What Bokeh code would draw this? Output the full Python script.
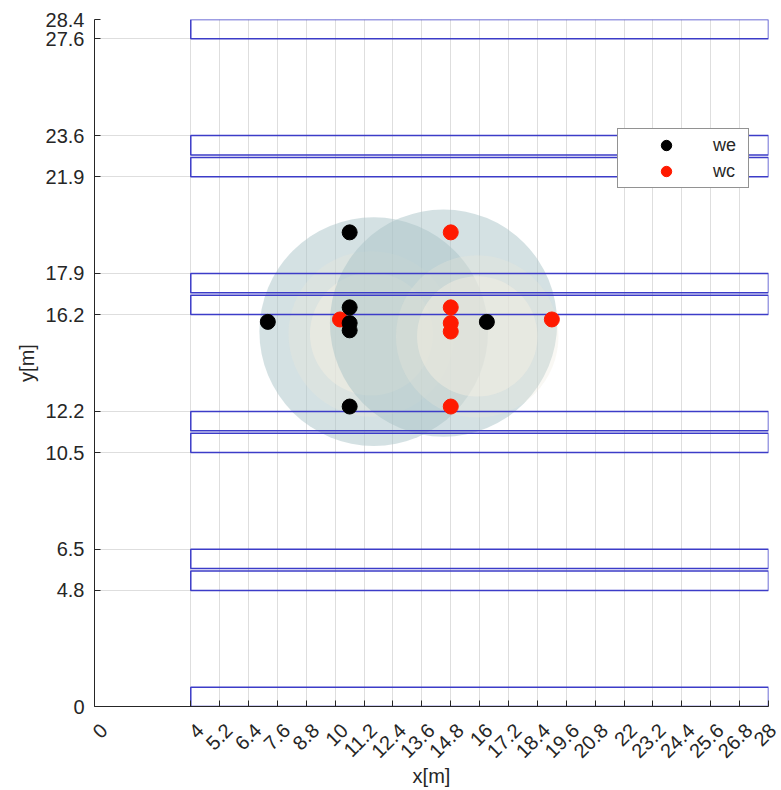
import math
from bokeh.plotting import figure
from bokeh.models import FixedTicker, Legend, LegendItem, Range1d
from bokeh.embed import file_html
from bokeh.resources import INLINE

# ---- data ----
x_ticks = [0, 4, 5.2, 6.4, 7.6, 8.8, 10, 11.2, 12.4, 13.6, 14.8, 16, 17.2,
           18.4, 19.6, 20.8, 22, 23.2, 24.4, 25.6, 26.8, 28]
x_tick_labels = ["0", "4", "5.2", "6.4", "7.6", "8.8", "10", "11.2", "12.4", "13.6",
                 "14.8", "16", "17.2", "18.4", "19.6", "20.8", "22", "23.2", "24.4",
                 "25.6", "26.8", "28"]
y_ticks = [0, 4.8, 6.5, 10.5, 12.2, 16.2, 17.9, 21.9, 23.6, 27.6, 28.4]
y_tick_labels = ["0", "4.8", "6.5", "10.5", "12.2", "16.2", "17.9", "21.9", "23.6",
                 "27.6", "28.4"]

rect_left = [4, 4, 4, 4, 4, 4, 4, 4, 4, 4]
rect_right = [28, 28, 28, 28, 28, 28, 28, 28, 28, 28]
rect_bottom = [0, 4.8, 5.7, 10.5, 11.4, 16.2, 17.1, 21.9, 22.8, 27.6]
rect_top = [0.8, 5.6, 6.5, 11.3, 12.2, 17.0, 17.9, 22.7, 23.6, 28.4]

we_x = [10.6, 7.2, 10.6, 10.6, 10.6, 16.3, 10.6]
we_y = [19.6, 15.9, 16.5, 15.85, 15.55, 15.9, 12.4]
wc_x = [14.8, 10.2, 14.8, 14.8, 14.8, 19.0, 14.8]
wc_y = [19.6, 16.0, 16.5, 15.85, 15.5, 16.0, 12.4]

sphere_x = [11.6, 14.5]
sphere_y = [15.5, 15.85]
sphere_r = [4.75, 4.72]
highlight_x = [11.5, 15.9]
highlight_y = [15.4, 15.3]
highlight_r = [2.55, 2.5]

TXT = "#262626"
FONT = "Liberation Sans"

p = figure(output_backend="svg", toolbar_location=None,
           frame_width=674, frame_height=687,
           min_border_left=94, min_border_right=12, min_border_top=19,
           min_border_bottom=10,
           x_range=Range1d(0, 28), y_range=Range1d(0, 28.4),
           background_fill_color="white", border_fill_color="white")
p.outline_line_color = None

# spheres
for i in range(2):
    p.circle(x=[sphere_x[i]], y=[sphere_y[i]], radius=sphere_r[i],
             fill_color="#a9c3c7", fill_alpha=0.5, line_color=None)
    p.circle(x=[highlight_x[i]], y=[highlight_y[i]], radius=highlight_r[i] * 1.35,
             fill_color="#ece9dc", fill_alpha=0.3, line_color=None)
    p.circle(x=[highlight_x[i]], y=[highlight_y[i]], radius=highlight_r[i],
             fill_color="#f7f0e2", fill_alpha=0.45, line_color=None)

# rectangles
p.quad(left=rect_left, right=rect_right, bottom=rect_bottom, top=rect_top,
       fill_color=None, line_color="#3c3cc8", line_width=1.5)

# points
r_wc = p.scatter(wc_x, wc_y, size=15, marker="circle", fill_color="#ff1a00",
                 line_color="#ff1a00")
r_we = p.scatter(we_x, we_y, size=15, marker="circle", fill_color="black",
                 line_color="black")

legend = Legend(items=[LegendItem(label="we", renderers=[r_we]),
                       LegendItem(label="wc", renderers=[r_wc])],
                location=(523, 518), padding=3, glyph_width=90, glyph_height=26,
                label_standoff=2, label_width=32, spacing=0, margin=0,
                label_text_font=FONT, label_text_font_size="18px",
                label_text_color=TXT, border_line_color=TXT, border_line_width=1,
                background_fill_color="white", background_fill_alpha=1)
p.add_layout(legend)

# axes
p.xaxis.ticker = FixedTicker(ticks=x_ticks)
p.yaxis.ticker = FixedTicker(ticks=y_ticks)
p.xaxis.major_label_overrides = {t: "\n" + l for t, l in zip(x_ticks, x_tick_labels)}
p.yaxis.major_label_overrides = {t: l for t, l in zip(y_ticks, y_tick_labels)}
p.xaxis.major_label_orientation = math.pi / 4
for ax in (p.xaxis, p.yaxis):
    ax.major_tick_in = 6
    ax.major_tick_out = 0
    ax.minor_tick_line_color = None
    ax.axis_line_color = TXT
    ax.major_tick_line_color = TXT
    ax.major_label_text_color = TXT
    ax.major_label_text_font = FONT
    ax.major_label_text_font_size = "20px"
    ax.axis_label_text_font = FONT
    ax.axis_label_text_font_size = "20px"
    ax.axis_label_text_font_style = "normal"
    ax.axis_label_text_color = TXT
p.yaxis.major_label_standoff = 10
p.xaxis.major_label_standoff = 11
p.xaxis.axis_label = "x[m]"
p.yaxis.axis_label = "y[m]"
p.xaxis.axis_label_standoff = -17

p.xgrid.grid_line_color = "#dedede"
p.ygrid.grid_line_color = "#dedede"
p.xgrid.grid_line_width = 1
p.ygrid.grid_line_width = 1

open("out.html", "w").write(file_html(p, INLINE))
